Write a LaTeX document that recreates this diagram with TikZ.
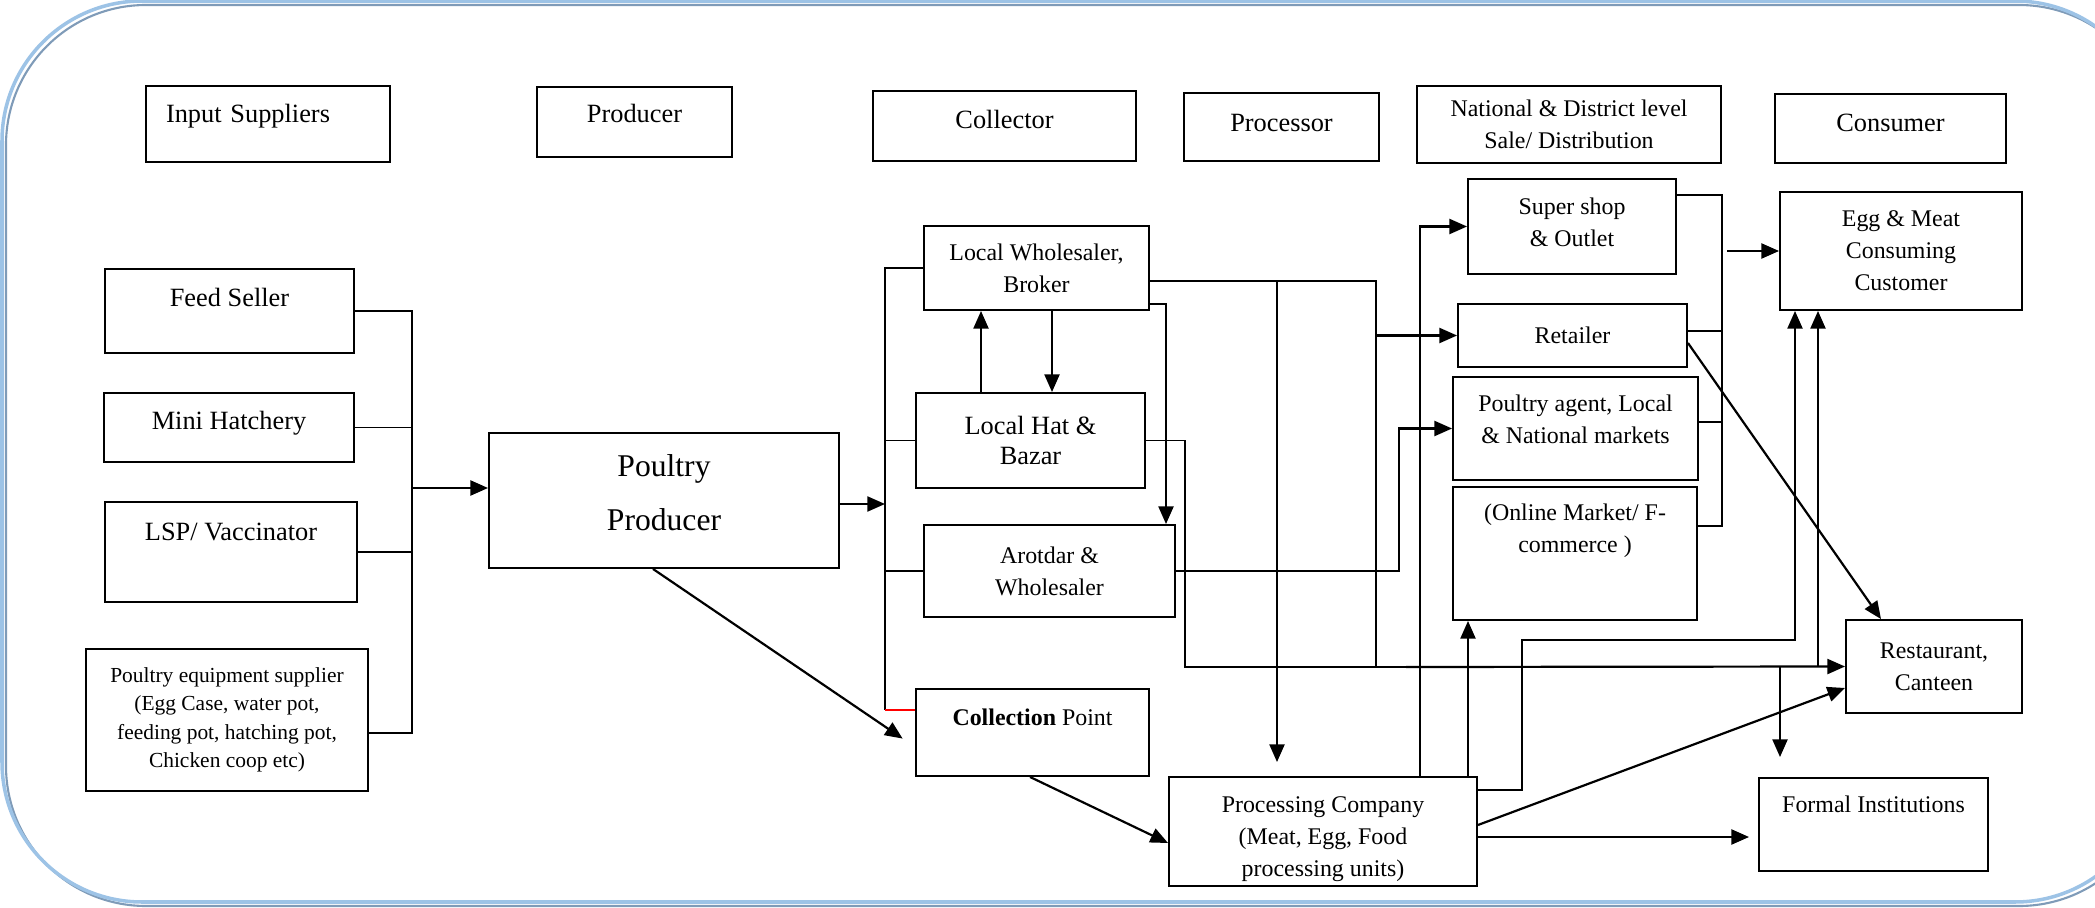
\documentclass[tikz,border=0pt]{standalone}
\usepackage{fontspec}
\setmainfont{Liberation Serif}
\usetikzlibrary{arrows.meta}
\definecolor{frameblue}{HTML}{9DC3E6}
\definecolor{framedark}{HTML}{7F9BB8}

\begin{document}
\begin{tikzpicture}[
  x=0.2mm, y=-0.2mm,
  box/.style={draw, line width=1.1pt, align=center, inner sep=1pt, font=\fontsize{13.6}{18.2}\selectfont},
  big/.style={font=\fontsize{15}{17.6}\selectfont},
  lift/.style={text depth=#1},
  wire/.style={line width=1pt},
  arr/.style={line width=1.25pt, -{Triangle[length=10pt,width=8.5pt]}},
]
\path[use as bounding box] (0,0) rectangle (2095,908);
\clip (0,0) rectangle (2095,908);

\draw[framedark, line width=1.2pt, rounded corners=28mm] (6,5) rectangle (2159,906);
\draw[frameblue, line width=2pt, rounded corners=28mm] (2,1) rectangle (2155,902);

\node[box, big, minimum width=48.8mm, minimum height=15.2mm, text width=40.8mm, align=left, lift=12.5pt] (hin) at (268,124) {Input Suppliers};
\node[box, big, minimum width=39mm, minimum height=14mm, lift=10pt] (hpr) at (634.5,122) {Producer};
\node[box, big, minimum width=52.6mm, minimum height=14mm, lift=7pt] (hco) at (1004.5,126) {Collector};
\node[box, big, minimum width=39mm, minimum height=13.6mm, lift=5pt] (hps) at (1281.5,127) {Processor};
\node[box, minimum width=60.8mm, minimum height=15.4mm] (hnd) at (1569,124.5) {National \& District level\\Sale/ Distribution};
\node[box, big, minimum width=46.2mm, minimum height=13.8mm, lift=7pt] (hcs) at (1890.5,128.5) {Consumer};

\node[box, big, minimum width=49.8mm, minimum height=16.8mm, lift=16pt] (feed) at (229.5,311) {Feed Seller};
\node[box, big, minimum width=50mm, minimum height=13.8mm, lift=8pt] (hatch) at (229,427.5) {Mini Hatchery};
\node[box, big, minimum width=50.4mm, minimum height=20mm, lift=23pt] (lsp) at (231,552) {LSP/ Vaccinator};
\node[box, font=\fontsize{12.2}{16.2}\selectfont, minimum width=56.4mm, minimum height=28.4mm] (equip) at (227,720)
  {Poultry equipment supplier\\(Egg Case, water pot,\\feeding pot, hatching pot,\\Chicken coop etc)};

\node[box, font=\fontsize{18}{31}\selectfont, minimum width=70mm, minimum height=27mm, lift=9.2pt] (pp) at (664,500.5) {Poultry\\Producer};

\node[box, minimum width=45mm, minimum height=16.8mm] (lw) at (1036.5,268) {Local Wholesaler,\\Broker};
\node[box, big, minimum width=45.8mm, minimum height=19mm] (lh) at (1030.5,440.5) {Local Hat \&\\Bazar};
\node[box, minimum width=50.2mm, minimum height=18.4mm] (ar) at (1049.5,571) {Arotdar \&\\Wholesaler};
\node[box, minimum width=46.6mm, minimum height=17.4mm, lift=17pt] (cp) at (1032.5,732.5) {\textbf{Collection} Point};

\node[box, minimum width=61.6mm, minimum height=21.8mm, text height=53.7pt] (pc) at (1323,831.5) {Processing Company\\(Meat, Egg, Food\\processing units)};

\node[box, minimum width=41.6mm, minimum height=19mm, lift=4.6pt] (ss) at (1572,226.5) {Super shop\\\& Outlet};
\node[box, minimum width=45.8mm, minimum height=12.6mm] (ret) at (1572.5,335.5) {Retailer};
\node[box, minimum width=49mm, minimum height=20.6mm, lift=10.2pt] (pa) at (1575.5,428.5) {Poultry agent, Local\\\& National markets};
\node[box, minimum width=48.8mm, minimum height=26.6mm, lift=29pt] (om) at (1575,553.5) {(Online Market/ F-\\commerce )};

\node[box, minimum width=48.4mm, minimum height=23.6mm] (egg) at (1901,251) {Egg \& Meat\\Consuming\\Customer};
\node[box, minimum width=35.2mm, minimum height=18.6mm] (rest) at (1934,666.5) {Restaurant,\\Canteen};
\node[box, minimum width=45.8mm, minimum height=18.6mm, lift=23pt] (fi) at (1873.5,824.5) {Formal Institutions};

\coordinate (inb) at (412,488);
\coordinate (inbot) at (412,733);
\draw[wire] (feed.east) -| (inbot) -- (equip.east |- inbot);
\draw[wire] (hatch.east) -- (hatch.east -| inb);
\draw[wire] (lsp.east) -- (lsp.east -| inb);
\draw[arr] (inb) -- (inb -| pp.west);

\coordinate (cb) at (885,504);
\coordinate (cbend) at (885,710);
\draw[arr] (pp.east |- cb) -- (cb);
\draw[wire] (lw.west) -| (cbend);
\draw[wire, red] (cbend) -- (cp.west |- cbend);
\draw[wire] (lh.west) -- (lh.west -| cbend);
\draw[wire] (ar.west) -- (ar.west -| cbend);

\draw[arr] (lh.north -| 981,0) -- (lw.south -| 981,0);
\draw[arr] (lw.south -| 1052,0) -- (lh.north -| 1052,0);
\draw[arr] (lw.east |- 0,304) -| (ar.north -| 1166,0);

\coordinate (hrow) at (1185,667);
\coordinate (hrowb) at (1406,667);
\draw[wire] (lh.east) -| (hrow) -- (hrowb);
\draw[arr] (hrowb) -- (rest.west);

\coordinate (lwe) at (1376,281);
\coordinate (pcdrop) at (1277,281);
\draw[wire] (lw.east |- lwe) -- (lwe) -- (lwe |- hrow);
\draw[arr, shorten >=2.8mm] (pcdrop) -- (pc.north -| pcdrop);
\draw[arr] (ret.west -| lwe) -- (ret.west);
\draw[arr] (ar.east) -- (ar.east -| 1399,0) |- (pa.west);

\coordinate (pcup) at (1522,640);
\draw[arr] (pc.north -| 1420,0) |- (ss.west);
\draw[arr] (pc.north -| 1468,0) -- (om.south -| 1468,0);
\draw[arr] (pc.east |- 0,790) -| (pcup) -| (egg.south -| 1795,0);
\draw[arr] (hrow -| 1818,0) -- (egg.south -| 1818,0);
\draw[arr, shorten >=4mm] (hrow -| 1780,0) -- (fi.north -| 1780,0);
\draw[arr] (pc.east |- 0,825) -- (rest.west |- 0,688);
\draw[arr, shorten >=1.8mm] (pc.east |- 0,837) -- (fi.west |- 0,837);
\draw[arr] (cp.south -| 1030,0) -- (pc.west |- 0,843);
\draw[arr, shorten >=3mm] (pp.south -| 653,0) -- (cp.west |- 0,747);
\draw[arr] (ret.east |- 0,343) -- (rest.north -| 1881,0);

\coordinate (db) at (1722,195);
\draw[wire] (ss.east |- db) -- (db) |- (om.east |- 0,526);
\draw[wire] (ret.east |- 0,331) -- (db |- 0,331);
\draw[wire] (pa.east |- 0,422) -- (db |- 0,422);
\draw[arr] (egg.west -| 1727,0) -- (egg.west);
\end{tikzpicture}
\end{document}
